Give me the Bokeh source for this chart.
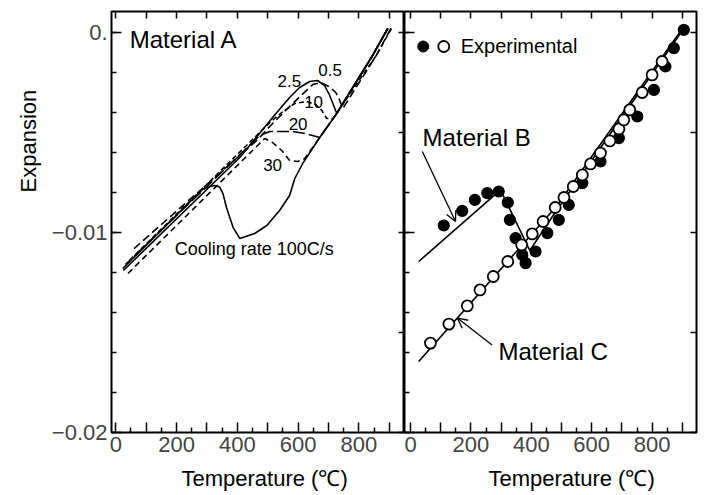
from bokeh.plotting import figure
from bokeh.layouts import row
from bokeh.models import (Range1d, FixedTicker, LinearAxis, CustomJSTickFormatter,
                          Label, Arrow, OpenHead, Title)
from bokeh.core.properties import value
from bokeh.embed import file_html
from bokeh.resources import INLINE

FONT = "Liberation Sans"

# ---------------- Material A: cooling curves (temperature degC, expansion) -------------
rate_05_T = [905, 857, 747, 737, 724, 701, 674, 648, 582, 516, 464, 53]
rate_05_E = [0.0002, -0.00115, -0.0038, -0.0034, -0.003, -0.0027, -0.0025, -0.0026,
             -0.00355, -0.00455, -0.0054, -0.0109]
rate_25_T = [895, 845, 727, 717, 704, 687, 664, 638, 605, 572, 516, 408, 25]
rate_25_E = [0.0002, -0.00115, -0.00405, -0.00365, -0.00315, -0.00265, -0.0024, -0.00245,
             -0.00275, -0.00325, -0.00425, -0.00625, -0.0119]
rate_10_T = [907, 857, 715, 694, 678, 658, 628, 589, 546, 507, 38]
rate_10_E = [0.0002, -0.00115, -0.0043, -0.0043, -0.0039, -0.0036, -0.00345, -0.00355,
             -0.004, -0.0045, -0.0115]
rate_20_T = [895, 845, 727, 671, 622, 582, 507, 474, 32]
rate_20_E = [0.0002, -0.00115, -0.00405, -0.00525, -0.00505, -0.00495, -0.00495, -0.00515, -0.0116]
rate_30_T = [895, 845, 727, 671, 622, 599, 572, 546, 516, 490, 40]
rate_30_E = [0.0002, -0.00115, -0.00405, -0.00525, -0.0063, -0.00645, -0.0064, -0.0059,
             -0.0055, -0.0053, -0.01205]
rate_100_T = [895, 845, 727, 671, 615, 589, 572, 539, 497, 457, 408, 386, 364, 353, 342,
              326, 309, 287, 23]
rate_100_E = [0.0002, -0.00115, -0.00405, -0.00525, -0.00655, -0.0073, -0.00815, -0.0089,
              -0.00965, -0.01005, -0.0103, -0.00974, -0.00874, -0.00807, -0.00773,
              -0.00765, -0.0077, -0.00782, -0.0118]

rate_labels = ["0.5", "2.5", "10", "20", "30"]
rate_label_T = [705, 571, 651, 600, 516]
rate_label_E = [-0.00185, -0.00240, -0.00345, -0.00455, -0.00663]

# ---------------- Material B (filled) and C (open): experimental + calculated -------------
B_exp_T = [110, 171, 213, 254, 292, 322, 329, 348, 370, 381, 414, 453, 491, 524, 569, 629,
           690, 751, 806, 844, 872, 905]
B_exp_E = [-0.00965, -0.00892, -0.00837, -0.00803, -0.00795, -0.0085, -0.00937, -0.01028,
           -0.01112, -0.01153, -0.01095, -0.01003, -0.00937, -0.00862, -0.00753, -0.00645,
           -0.00528, -0.0042, -0.00287, -0.0017, -0.00078, 0.00013]
B_calc_T = [27, 298, 395, 470, 905]
B_calc_E = [-0.01145, -0.00787, -0.0109, -0.0092, 0.0002]

C_exp_T = [66, 127, 188, 230, 274, 322, 368, 403, 439, 479, 508, 539, 569, 596, 629, 660,
           690, 706, 726, 767, 800, 833]
C_exp_E = [-0.01553, -0.01458, -0.01367, -0.01287, -0.0122, -0.01145, -0.01062, -0.01007,
           -0.00945, -0.00875, -0.00825, -0.0077, -0.00712, -0.00657, -0.00603, -0.00542,
           -0.00482, -0.00437, -0.00387, -0.003, -0.00212, -0.00145]
C_calc_T = [27, 483, 905]
C_calc_E = [-0.01645, -0.0087, 0.0003]

x_tick_values = list(range(0, 1000, 100))
x_minor_values = list(range(50, 1000, 100))
y_major_values = [0.0, -0.01, -0.02]
y_minor_values = [-0.002 * i for i in range(11)]
y_side_values = [0.0, -0.005, -0.01, -0.015, -0.02]

Y_RANGE = (-0.02, 0.00105)
LEFT_X = (-14, 950)
RIGHT_X = (-20, 947)


def base_fig(xr, fw, left_border, right_border):
    p = figure(frame_width=fw, frame_height=421,
               x_range=Range1d(*xr), y_range=Range1d(*Y_RANGE),
               output_backend="svg", toolbar_location=None, tools="",
               min_border_left=left_border, min_border_right=right_border,
               min_border_top=11, min_border_bottom=63,
               x_axis_type=None, y_axis_type=None)
    p.xgrid.visible = False
    p.ygrid.visible = False
    p.outline_line_color = "black"
    p.outline_line_width = 2
    p.background_fill_color = "white"
    p.border_fill_color = "white"
    return p


def plain_axis(ax, major_in, minor_in=0):
    ax.major_tick_in = major_in
    ax.major_tick_out = 0
    ax.minor_tick_in = minor_in
    ax.minor_tick_out = 0
    ax.major_tick_line_color = "black"
    ax.minor_tick_line_color = "black" if minor_in else None
    ax.major_tick_line_width = 1.5
    ax.minor_tick_line_width = 1.5
    ax.axis_line_color = None


def hidden_labels(ax):
    ax.major_label_text_font_size = "0px"
    ax.major_label_text_color = None
    ax.major_label_standoff = 0


def title(text, offset, standoff):
    return Title(text=text, align="left", offset=offset, text_font=FONT,
                 text_font_size="22px", text_font_style="normal", text_color="black",
                 standoff=standoff)


def add_axes(p, with_ylabels):
    # bottom
    xb = LinearAxis(ticker=FixedTicker(ticks=x_tick_values, minor_ticks=x_minor_values),
                    formatter=CustomJSTickFormatter(
                        code="return (tick % 200 == 0 && tick <= 800) ? tick.toFixed(0) : '';"))
    plain_axis(xb, 10, 5)
    xb.major_label_text_font = FONT
    xb.major_label_text_font_size = "22px"
    xb.major_label_standoff = 4
    p.add_layout(xb, "below")
    # top
    xt = LinearAxis(ticker=FixedTicker(ticks=x_tick_values, minor_ticks=[]))
    plain_axis(xt, 7)
    hidden_labels(xt)
    p.add_layout(xt, "above")
    # left
    yl = LinearAxis(ticker=FixedTicker(ticks=y_major_values, minor_ticks=y_minor_values),
                    formatter=CustomJSTickFormatter(
                        code="if (Math.abs(tick) < 1e-9) { return '0.'; } return '\u2212' + Math.abs(tick).toFixed(2);"))
    plain_axis(yl, 10, 5)
    if with_ylabels:
        yl.major_label_text_font = FONT
        yl.major_label_text_font_size = "22px"
        yl.major_label_standoff = 4
    else:
        hidden_labels(yl)
    p.add_layout(yl, "left")
    # right
    yr = LinearAxis(ticker=FixedTicker(ticks=y_side_values, minor_ticks=[]))
    plain_axis(yr, 6)
    hidden_labels(yr)
    p.add_layout(yr, "right")


# ---------------- left panel ----------------
p1 = base_fig(LEFT_X, 293, 111, 0)
add_axes(p1, True)
p1.add_layout(title("Temperature (\u2103)", 70, 18), "below")
p1.add_layout(title("Expansion", 240, 16), "left")

p1.line(rate_05_T, rate_05_E, line_color="black", line_width=1.6, line_dash="8 4")
p1.line(rate_25_T, rate_25_E, line_color="black", line_width=1.6)
p1.line(rate_10_T, rate_10_E, line_color="black", line_width=1.6, line_dash="5 3")
p1.line(rate_20_T, rate_20_E, line_color="black", line_width=1.6, line_dash="12 4")
p1.line(rate_30_T, rate_30_E, line_color="black", line_width=1.6, line_dash="6 4")
p1.line(rate_100_T, rate_100_E, line_color="black", line_width=1.6)

p1.text(x=rate_label_T, y=rate_label_E, text=rate_labels, text_font=value(FONT),
        text_font_size="17px", text_align="center", text_baseline="middle",
        text_color="black")
p1.add_layout(Label(x=46, y=-0.00033, text="Material A", text_font=FONT,
                    text_font_size="24px", text_baseline="middle", text_color="black"))
p1.add_layout(Label(x=194, y=-0.0108, text="Cooling rate 100C/s", text_font=FONT,
                    text_font_size="18px", text_baseline="middle", text_color="black"))

# ---------------- right panel ----------------
p2 = base_fig(RIGHT_X, 292, 0, 8)
add_axes(p2, False)
p2.add_layout(title("Temperature (\u2103)", 84, 18), "below")

p2.line(B_calc_T, B_calc_E, line_color="black", line_width=1.6)
p2.line(C_calc_T, C_calc_E, line_color="black", line_width=1.6)
p2.scatter(B_exp_T, B_exp_E, marker="circle", size=11, fill_color="black",
           line_color="black", line_width=1.2)
p2.scatter(C_exp_T, C_exp_E, marker="circle", size=11, fill_color="white",
           line_color="black", line_width=1.8)

legend_T = [42, 110]
legend_E = [-0.0007, -0.0007]
p2.scatter(legend_T[:1], legend_E[:1], marker="circle", size=11, fill_color="black",
           line_color="black")
p2.scatter(legend_T[1:], legend_E[1:], marker="circle", size=11, fill_color="white",
           line_color="black", line_width=1.8)
p2.add_layout(Label(x=166, y=-0.00068, text="Experimental", text_font=FONT,
                    text_font_size="20px", text_baseline="middle", text_color="black"))
p2.add_layout(Label(x=40, y=-0.00525, text="Material B", text_font=FONT,
                    text_font_size="24px", text_baseline="middle", text_color="black"))
p2.add_layout(Label(x=291, y=-0.01595, text="Material C", text_font=FONT,
                    text_font_size="24px", text_baseline="middle", text_color="black"))
p2.add_layout(Arrow(end=OpenHead(size=10, line_width=1.3), line_width=1.3,
                    x_start=39, y_start=-0.00595, x_end=149, y_end=-0.00945))
p2.add_layout(Arrow(end=OpenHead(size=10, line_width=1.3), line_width=1.3,
                    x_start=270, y_start=-0.01562, x_end=155, y_end=-0.01428))

layout = row(p1, p2, spacing=0)
open("out.html", "w").write(file_html(layout, INLINE))
